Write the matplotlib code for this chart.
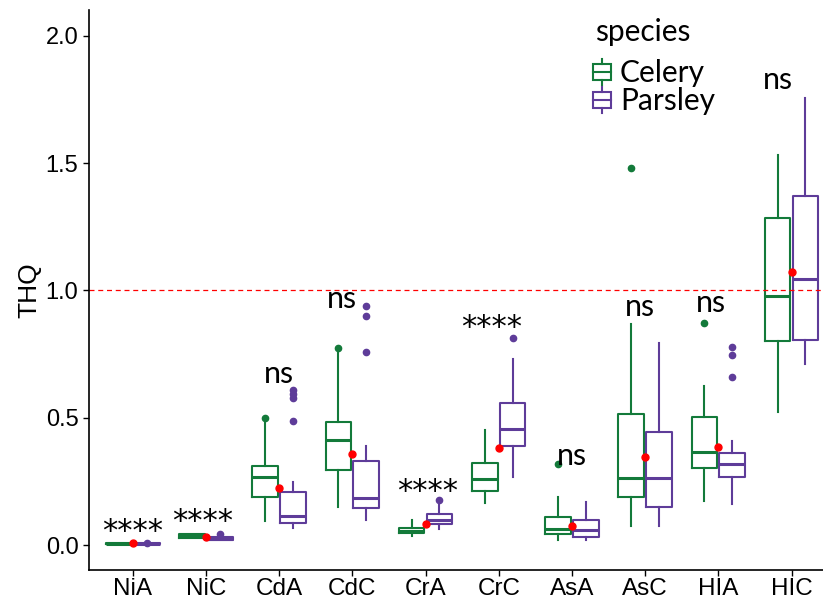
import matplotlib
matplotlib.use("Agg")
import matplotlib.pyplot as plt
from matplotlib.lines import Line2D
from matplotlib.patches import Rectangle
from matplotlib.legend_handler import HandlerBase

labels = ['NiA', 'NiC', 'CdA', 'CdC', 'CrA', 'CrC', 'AsA', 'AsC', 'HIA', 'HIC']

# Celery box stats
cel_lo = [0.003, 0.026, 0.094, 0.15, 0.035, 0.165, 0.02, 0.075, 0.173, 0.523]
cel_q1 = [0.004, 0.029, 0.19, 0.295, 0.046, 0.212, 0.043, 0.19, 0.302, 0.80]
cel_med = [0.006, 0.034, 0.267, 0.413, 0.056, 0.258, 0.063, 0.262, 0.366, 0.98]
cel_q3 = [0.008, 0.042, 0.31, 0.483, 0.068, 0.322, 0.11, 0.515, 0.503, 1.285]
cel_hi = [0.010, 0.045, 0.48, 0.755, 0.098, 0.452, 0.19, 0.868, 0.625, 1.532]
cel_out = [[], [], [0.50], [0.774], [], [], [0.32], [1.483], [0.873], []]

# Parsley box stats
par_lo = [0.003, 0.018, 0.066, 0.10, 0.063, 0.267, 0.02, 0.075, 0.161, 0.711]
par_q1 = [0.004, 0.02, 0.086, 0.145, 0.082, 0.389, 0.03, 0.15, 0.267, 0.805]
par_med = [0.006, 0.024, 0.114, 0.185, 0.098, 0.456, 0.06, 0.262, 0.318, 1.045]
par_q3 = [0.009, 0.03, 0.21, 0.33, 0.122, 0.558, 0.098, 0.445, 0.36, 1.371]
par_hi = [0.011, 0.035, 0.247, 0.39, 0.157, 0.73, 0.17, 0.792, 0.409, 1.755]
par_out = [[0.01], [0.043], [0.487, 0.578, 0.593, 0.61], [0.76, 0.90, 0.94], [0.177],
           [0.813], [], [], [0.66, 0.746, 0.778], []]

means = [0.008, 0.03, 0.224, 0.357, 0.082, 0.38, 0.075, 0.347, 0.385, 1.073]

# significance labels (y = visual centre of the label)
sig = ['****', '****', 'ns', 'ns', '****', '****', 'ns', 'ns', 'ns', 'ns']
sig_y = [0.07, 0.11, 0.668, 0.963, 0.228, 0.872, 0.346, 0.931, 0.945, 1.823]
sig_dx = [0, -0.05, 0, -0.14, 0.03, -0.1, 0, -0.07, -0.1, -0.18]

green = '#137A3A'
purple = '#5E3C99'


def stats(lo, q1, med, q3, hi, out):
    res = []
    for i in range(len(lo)):
        res.append(dict(whislo=lo[i], q1=q1[i], med=med[i], q3=q3[i],
                        whishi=hi[i], fliers=out[i]))
    return res


fig = plt.figure(figsize=(8.23, 5.99), dpi=100)
ax = fig.add_axes([0.108, 0.0484, 0.892, 0.935])

pos = list(range(len(labels)))
for st, col, off in [(stats(cel_lo, cel_q1, cel_med, cel_q3, cel_hi, cel_out), green, -0.19),
                     (stats(par_lo, par_q1, par_med, par_q3, par_hi, par_out), purple, 0.19)]:
    ax.bxp(st, positions=[p + off for p in pos], widths=0.35, showcaps=False,
           boxprops=dict(color=col, lw=1.5),
           medianprops=dict(color=col, lw=2.2),
           whiskerprops=dict(color=col, lw=1.5),
           flierprops=dict(marker='o', markerfacecolor=col, markeredgecolor=col,
                           markersize=4.5))

ax.plot(pos, means, 'o', color='red', markersize=5, zorder=5)
ax.axhline(1.0, color='red', ls=(0, (4, 3)), lw=0.9)

for i in pos:
    if sig[i] == 'ns':
        fs, fam, k = 22, 'Lato', 0.253
    else:
        fs, fam, k = 22, 'DejaVu Sans', 0.41
    ax.annotate(sig[i], xy=(i + sig_dx[i], sig_y[i]), xytext=(0, -k * fs),
                textcoords='offset points', ha='center', va='baseline',
                fontsize=fs, family=fam)

ax.set_xlim(-0.6, 9.43)
ax.set_ylim(-0.098, 2.102)
ax.set_xticks(pos)
ax.set_xticklabels(labels, fontsize=17.5, family='Liberation Sans')
ax.set_yticks([0.0, 0.5, 1.0, 1.5, 2.0])
ax.set_yticklabels(['0.0', '0.5', '1.0', '1.5', '2.0'], fontsize=17, family='Liberation Sans')
ax.tick_params(direction='out', length=4, width=1)
ax.tick_params(axis='x', pad=1.5)
ax.set_ylabel('THQ', fontsize=19, family='Liberation Sans', labelpad=3)
for s in ['top', 'right']:
    ax.spines[s].set_visible(False)
for s in ['left', 'bottom']:
    ax.spines[s].set_linewidth(1.2)


class BoxHandler(HandlerBase):
    def create_artists(self, legend, orig_handle, xdescent, ydescent,
                       width, height, fontsize, trans):
        c = orig_handle.get_color()
        x0, y0 = -xdescent, -ydescent
        xm = x0 + width / 2
        box = Rectangle((x0, y0 + height * 0.18), width, height * 0.64,
                        fill=False, edgecolor=c, lw=1.5, transform=trans)
        med = Line2D([x0, x0 + width], [y0 + height / 2] * 2, color=c, lw=1.5, transform=trans)
        w1 = Line2D([xm, xm], [y0, y0 + height * 0.18], color=c, lw=1.5, transform=trans)
        w2 = Line2D([xm, xm], [y0 + height * 0.82, y0 + height], color=c, lw=1.5, transform=trans)
        return [box, med, w1, w2]


fig.text(595 / 823, 1 - 32 / 599, 'species', ha='left', va='center',
         family='Lato', fontsize=21.5)
handles = [Line2D([], [], color=green), Line2D([], [], color=purple)]
leg = ax.legend(handles, ['Celery', 'Parsley'],
                handler_map={Line2D: BoxHandler()},
                loc='upper left', bbox_to_anchor=(593 / 823, 1 - 59 / 599),
                bbox_transform=fig.transFigure, frameon=False,
                prop=dict(family='Lato', size=21.5),
                handlelength=0.6, handleheight=0.95, labelspacing=0.0,
                handletextpad=0.3, borderaxespad=0, borderpad=0)

fig.savefig('out.png', dpi=100)
